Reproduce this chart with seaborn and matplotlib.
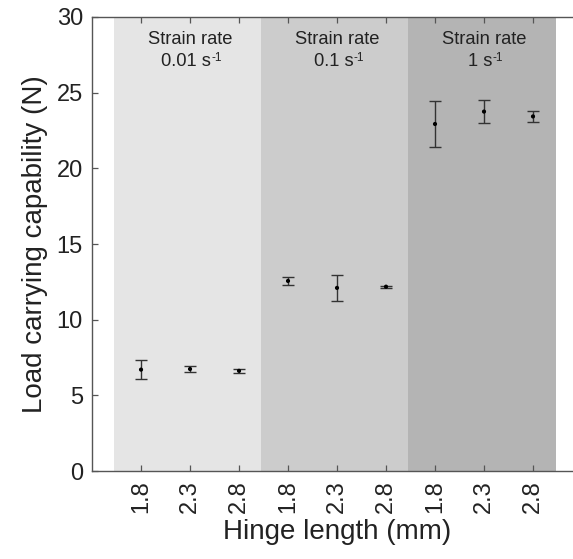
import numpy as np
import pandas as pd
import matplotlib
matplotlib.use('Agg')
import matplotlib.pyplot as plt
import seaborn as sns

# dati: lunghezza cerniera, velocita di deformazione, carico medio e deviazione
hinge = ['1.8', '2.3', '2.8', '1.8', '2.3', '2.8', '1.8', '2.3', '2.8']
rates = ['0.01', '0.01', '0.01', '0.1', '0.1', '0.1', '1', '1', '1']
load_mean = [6.70, 6.74, 6.62, 12.56, 12.10, 12.18, 22.93, 23.75, 23.43]
load_err = [0.63, 0.23, 0.15, 0.24, 0.87, 0.07, 1.55, 0.77, 0.36]
rate_labels = ['0.01', '0.1', '1']
band_colors = ['#e5e5e5', '#cccccc', '#b4b4b4']

data = pd.DataFrame({'hinge': hinge, 'rate': rates,
                     'load': load_mean, 'err': load_err})
data['pos'] = np.arange(1, len(data) + 1)

sns.set_style('ticks')
plt.rcParams['font.family'] = ['Liberation Sans', 'DejaVu Sans']

fig = plt.figure(figsize=(5.73, 5.59), dpi=100)
ax = fig.add_axes([0.1606, 0.1574, 0.8551, 0.8122])

# bande grigie per ogni velocita, con etichetta in alto
for i, r in enumerate(rate_labels):
    sub = data[data['rate'] == r]
    xc = sub['pos'].mean()
    ax.axvspan(sub['pos'].min() - 0.55, sub['pos'].max() + 0.47,
               color=band_colors[i], lw=0, zorder=0)
    ax.text(xc, 28.22, 'Strain rate', ha='center', va='baseline',
            fontsize=13.2, color='#222222')
    t2 = ax.annotate(r + ' s', xy=(xc, 26.79), xytext=(-2.6, 0),
                     textcoords='offset points', ha='center',
                     va='baseline', fontsize=13.2, color='#222222')
    ax.annotate('-1', xy=(1.0, 1.0), xycoords=t2, xytext=(0.3, 0.5),
                textcoords='offset points', ha='left', va='top',
                fontsize=8.5, color='#222222')

ax.errorbar(data['pos'], data['load'], yerr=data['err'], fmt='none',
            ecolor='#333333', elinewidth=1.0, capsize=4.6, capthick=1.0,
            zorder=2)
sns.scatterplot(data=data, x='pos', y='load', ax=ax, color='black', s=9,
                edgecolor='none', zorder=3, legend=False)

ax.set_xlim(0, 10)
ax.set_ylim(0, 30)
ax.set_xticks(data['pos'])
ax.set_xticklabels(data['hinge'], rotation=90)
ax.set_yticks([0, 5, 10, 15, 20, 25, 30])
ax.tick_params(axis='both', direction='in', length=4, width=0.9,
               color='#555555', labelsize=17, labelcolor='#222222')
ax.tick_params(axis='x', top=True, pad=7)
ax.tick_params(axis='y', pad=6.5)
for sp in ax.spines.values():
    sp.set_color('#555555')
    sp.set_linewidth(1.0)

ax.set_xlabel('Hinge length (mm)', fontsize=20, color='#222222', labelpad=4)
ax.set_ylabel('Load carrying capability (N)', fontsize=20, color='#222222',
              labelpad=6)

fig.savefig('out.png', dpi=100)
